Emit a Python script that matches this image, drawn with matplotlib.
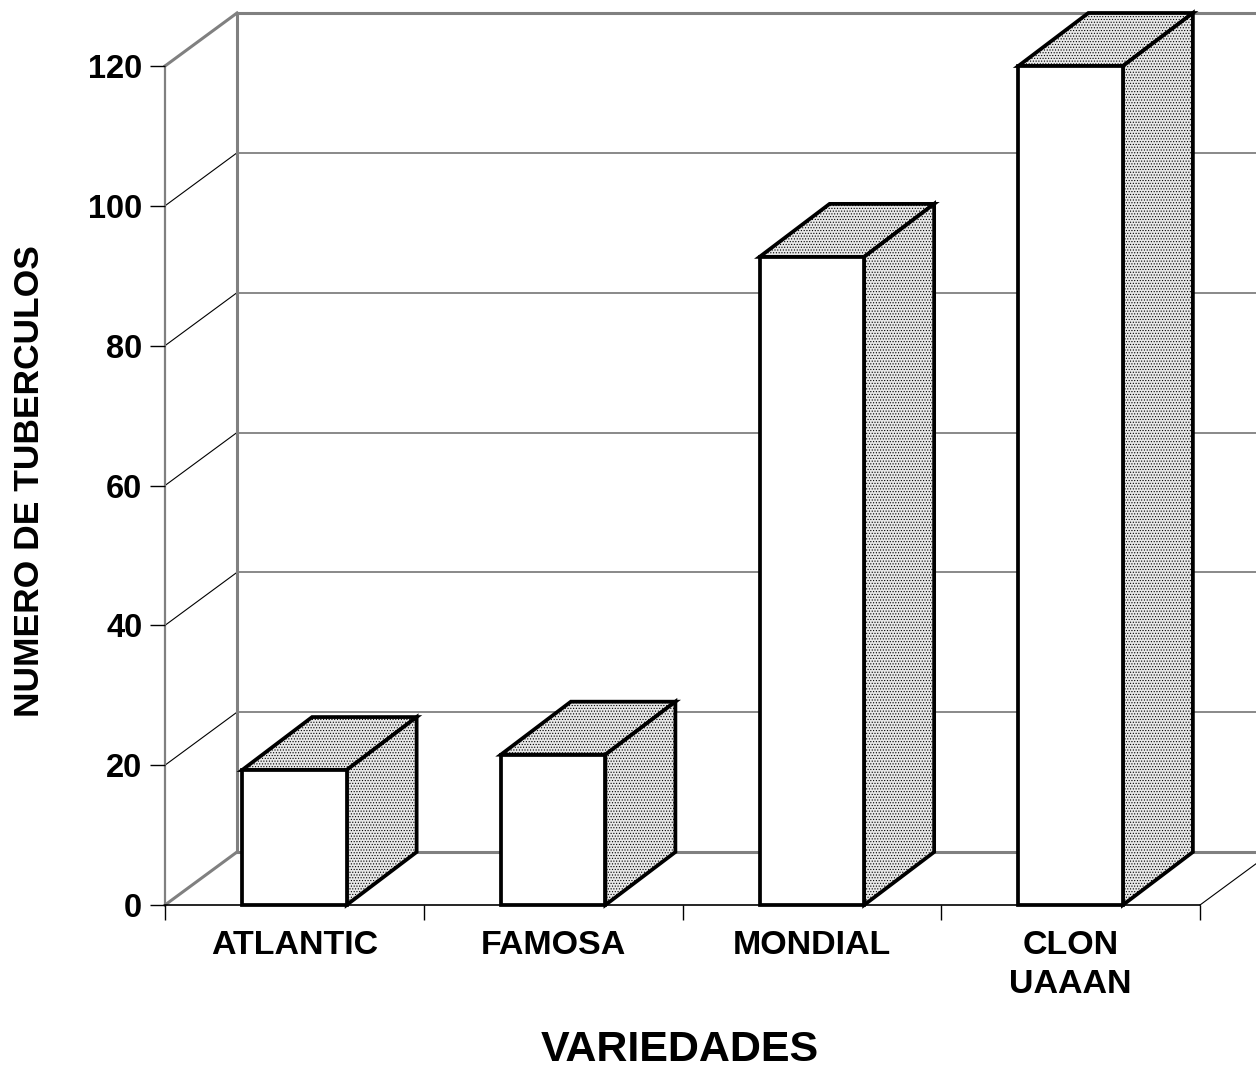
import matplotlib.pyplot as plt
from matplotlib.patches import Polygon, Rectangle

plt.rcParams['font.family'] = ['Liberation Sans', 'DejaVu Sans']
plt.rcParams['font.weight'] = 'bold'
plt.rcParams['hatch.color'] = '#666666'
plt.rcParams['hatch.linewidth'] = 0.5

variedades = ['ATLANTIC', 'FAMOSA', 'MONDIAL', 'CLON\nUAAAN']
tuberculos = [19.3, 21.5, 92.7, 120.0]
y_ticks = [0, 20, 40, 60, 80, 100, 120]

W, H = 1256, 1075
fig = plt.figure(figsize=(W / 100, H / 100), dpi=100)

# front corner of the plot box, in pixels
x0, y0, ytop = 165, 905, 66
cat_px = 258.75
ax = fig.add_axes([x0 / W, (H - y0) / H, (W - x0) / W, (y0 - ytop) / H])
ax.set_xlim(0, (W - x0) / cat_px)
ax.set_ylim(0, 120)
unit_px = (y0 - ytop) / 120

# 3d depth offsets in data units
wall_dx = 72 / cat_px
bar_dx = 70 / cat_px
dy = 53 / unit_px
n = len(variedades)
x_end = n + wall_dx

gray = '#808080'
frame = dict(clip_on=False, solid_capstyle='projecting')

# back wall and left wall
for v in y_ticks:
    edge = v in (0, 120)
    ax.plot([wall_dx, x_end], [v + dy, v + dy], color=gray,
            lw=2.2 if edge else 1.3, zorder=1, **frame)
    ax.plot([0, wall_dx], [v, v + dy], color=gray if edge else 'black',
            lw=2.2 if edge else 0.8, zorder=1, **frame)
ax.plot([wall_dx, wall_dx], [dy, 120 + dy], color=gray, lw=2.2, zorder=1, **frame)
ax.plot([0, 0], [0, 120], color=gray, lw=1.6, zorder=1, **frame)

# floor
ax.plot([0, n], [0, 0], color='black', lw=1.2, zorder=1, **frame)
ax.plot([n, n + wall_dx], [0, dy], color='black', lw=0.8, zorder=1, **frame)

# bars
bar_w = 0.404
for i, val in enumerate(tuberculos):
    left = i + 0.5 - bar_w / 2
    right = left + bar_w
    top = Polygon([(left, val), (right, val), (right + bar_dx, val + dy),
                   (left + bar_dx, val + dy)], closed=True)
    side = Polygon([(right, 0), (right + bar_dx, dy), (right + bar_dx, val + dy),
                    (right, val)], closed=True)
    for face in (top, side):
        face.set_facecolor('#e8e8e8')
        face.set_hatch('......')
        face.set_edgecolor('black')
        face.set_linewidth(2.7)
        face.set_joinstyle('miter')
        face.set_clip_on(False)
        face.set_zorder(3)
        ax.add_patch(face)
    front = Rectangle((left, 0), bar_w, val, facecolor='white', edgecolor='black',
                      linewidth=2.7, joinstyle='miter', clip_on=False, zorder=4)
    ax.add_patch(front)

for s in ax.spines.values():
    s.set_visible(False)
ax.patch.set_visible(False)

ax.set_yticks(y_ticks)
ax.tick_params(axis='y', length=10.8, width=1.0, direction='out', pad=5.5,
               labelsize=23.5, color='black')
ax.set_xticks([i + 0.5 for i in range(n)], labels=variedades)
ax.set_xticks(range(n + 1), minor=True)
ax.tick_params(axis='x', which='major', length=0, pad=18, labelsize=24.5)
ax.tick_params(axis='x', which='minor', length=10.8, width=1.0, direction='out')
for lbl in ax.get_xticklabels():
    lbl.set_linespacing(1.35)

fig.text(30 / W, 1 - 481 / H, 'NUMERO DE TUBERCULOS', rotation=90,
         ha='center', va='center', fontsize=25.5, fontweight='bold')
fig.text(680 / W, 1 - 1050 / H, 'VARIEDADES', ha='center', va='center',
         fontsize=31, fontweight='bold')

fig.savefig('out.png', dpi=100)
